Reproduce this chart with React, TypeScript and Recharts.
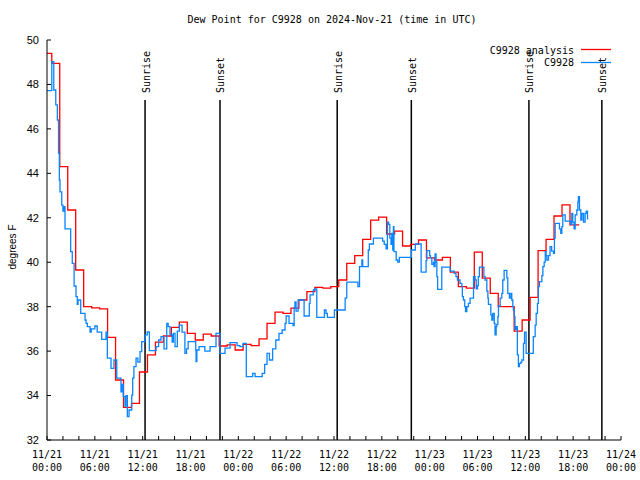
import { LineChart, Line, XAxis, YAxis, ReferenceLine, Legend } from 'recharts';

const MONO = '"DejaVu Sans Mono", monospace';
const SANS = '"Liberation Sans", Arial, sans-serif';

// x is hours since 11/21 00:00 UTC
const xTicks = [0, 2, 4, 6, 8, 10, 12, 14, 16, 18, 20, 22, 24, 26, 28, 30, 32, 34, 36, 38, 40, 42, 44, 46, 48, 50, 52, 54, 56, 58, 60, 62, 64, 66, 68, 70, 72];
const xTickLabels = [
  '11/21|00:00', '11/21|06:00', '11/21|12:00', '11/21|18:00',
  '11/22|00:00', '11/22|06:00', '11/22|12:00', '11/22|18:00',
  '11/23|00:00', '11/23|06:00', '11/23|12:00', '11/23|18:00',
  '11/24|00:00',
];
const yTicks = [32, 34, 36, 38, 40, 42, 44, 46, 48, 50];

const sunriseHours = [12.3, 36.4, 60.45];
const sunsetHours = [21.7, 45.7, 69.6];
const SUN_LINE_TOP = 47.3;

// hourly analysis, value changes at about :36 past each hour
const analysisFirst = 49.4;
const analysisValues = [
  48.95, 44.3, 42.35, 39.65, 38.0, 37.95, 37.9, 36.62, 34.7, 33.47,
  33.65, 35.06, 35.83, 36.4, 36.68, 37.07, 37.3, 36.8, 36.5, 36.76,
  36.68, 36.23, 36.28, 36.05, 36.3, 36.25, 36.55, 37.25, 37.75, 37.7,
  37.93, 38.3, 38.68, 38.87, 38.83, 38.9, 39.2, 39.95, 40.3, 41.03,
  41.89, 42.03, 41.27, 41.4, 40.73, 40.8, 41.0, 40.2, 40.1, 40.22,
  39.55, 38.9, 38.83, 40.45, 39.28, 38.6, 38.0, 38.0, 36.9, 37.4,
  38.42, 40.52, 41.03, 42.08, 42.58, 41.68,
];
const ANALYSIS_STEP_OFFSET = 0.6;
const ANALYSIS_END = 66.75;

const stationHours = [
  0, 0.6, 0.85, 1.1, 1.3, 1.45, 1.55, 1.63, 1.85, 2.0, 2.1, 2.26, 2.97, 3.17, 3.4, 3.64, 3.8, 3.9, 4.23, 4.77,
  4.9, 5.06, 5.4, 5.55, 6.0, 6.3, 6.86, 7.4, 7.57, 8.03, 8.4, 8.75, 9.28, 9.4, 9.57, 9.79, 9.9, 10.08, 10.29, 10.63,
  10.75, 10.9, 11.17, 11.4, 11.67, 11.88, 12.3, 12.58, 12.84, 13.68, 14.0, 14.3, 14.68, 15.02, 15.2, 15.43, 15.7, 15.85, 16.06, 16.35,
  16.6, 16.94, 17.3, 17.5, 17.7, 18.66, 18.7, 18.8, 19.07, 19.8, 20.45, 21.2, 21.7, 22.33, 22.96, 23.84, 24.2, 24.6, 25.0, 25.8,
  26.1, 27.0, 27.3, 27.6, 27.9, 28.3, 28.7, 29.1, 29.5, 29.86, 30.0, 30.36, 30.87, 31.0, 31.1, 31.24, 31.5, 32.25, 32.9, 33.0,
  33.4, 33.6, 33.84, 34.8, 35.0, 35.17, 36.05, 37.4, 37.6, 39.0, 39.2, 39.5, 39.6, 40.3, 40.44, 40.94, 42.1, 42.3, 42.53, 42.7,
  42.85, 43.0, 43.15, 43.25, 43.37, 43.45, 43.52, 43.8, 44.0, 44.2, 45.7, 46.2, 46.93, 47.55, 47.64, 48.0, 48.1, 48.27, 48.47, 48.55,
  48.68, 48.8, 48.9, 49.0, 49.52, 50.56, 51.07, 51.3, 51.48, 51.8, 52.03, 52.1, 52.23, 52.4, 52.5, 52.66, 52.86, 53.07, 53.5, 53.7,
  53.84, 54.0, 54.1, 54.24, 54.8, 54.95, 55.17, 55.3, 55.37, 55.67, 55.8, 55.92, 56.1, 56.2, 56.34, 56.42, 56.55, 56.63, 56.84, 57.05,
  57.17, 57.34, 57.68, 57.8, 58.0, 58.18, 58.3, 58.43, 58.5, 58.6, 58.7, 58.84, 59.0, 59.13, 59.26, 59.44, 59.56, 59.77, 59.9, 60.1,
  61.0, 61.23, 61.36, 61.52, 61.64, 61.77, 62.07, 62.2, 62.36, 62.5, 62.6, 62.7, 62.9, 63.1, 63.3, 63.53, 63.65, 63.74, 64.28, 64.45,
  64.58, 64.7, 65.0, 65.7, 65.83, 65.95, 66.12, 66.25, 66.46, 66.58, 66.66, 66.79, 66.96, 67.1, 67.3, 67.5, 67.63, 67.8, 67.9,
];
const stationValues = [
  47.72, 49.03, 47.75, 47.08, 46.4, 44.9, 43.7, 43.17, 42.57, 42.3, 42.5, 41.5, 40.48, 39.95, 38.93, 38.45, 38.1, 38.3, 37.7, 37.4,
  37.25, 37.1, 36.86, 37.0, 37.13, 36.85, 36.53, 36.85, 35.68, 35.22, 35.6, 34.78, 34.17, 34.5, 33.95, 33.53, 34.0, 33.05, 33.35, 34.02,
  34.78, 35.3, 35.68, 35.5, 35.98, 36.43, 36.73, 36.87, 36.02, 36.2, 36.5, 36.65, 36.1, 37.25, 37.1, 36.73, 36.4, 36.8, 36.2, 36.9,
  37.17, 36.85, 35.9, 36.1, 36.43, 36.05, 35.53, 36.05, 36.2, 36.0, 36.2, 36.8, 35.9, 36.13, 36.38, 36.25, 36.2, 36.35, 34.85, 35.0,
  34.85, 35.0, 35.4, 35.9, 35.6, 36.1, 36.5, 36.8, 36.95, 37.25, 37.58, 37.25, 37.15, 37.97, 38.22, 37.8, 38.3, 37.58, 38.15, 38.53,
  38.75, 38.8, 37.52, 37.85, 37.7, 37.52, 37.85, 38.38, 39.1, 38.9, 39.8, 40.1, 39.8, 40.55, 40.82, 41.08, 40.95, 40.8, 40.6, 41.8,
  41.7, 41.08, 40.8, 41.3, 40.55, 41.6, 40.48, 40.1, 40.0, 40.22, 40.55, 40.82, 39.55, 40.07, 40.52, 40.3, 40.2, 39.9, 40.0, 39.8,
  40.37, 40.0, 39.35, 38.78, 39.78, 39.6, 39.5, 39.35, 39.2, 39.05, 38.9, 38.45, 38.3, 38.0, 37.78, 38.0, 38.15, 38.38, 39.35, 39.2,
  38.8, 38.95, 39.35, 39.78, 39.35, 39.2, 38.7, 38.38, 38.1, 37.63, 37.4, 37.7, 37.25, 36.73, 37.1, 37.2, 37.55, 38.03, 38.38, 38.6,
  39.2, 39.63, 39.3, 38.6, 38.38, 38.6, 38.3, 38.0, 37.85, 37.55, 36.98, 37.1, 35.83, 35.3, 35.45, 35.5, 35.6, 36.35, 36.85, 35.9,
  36.65, 37.17, 37.7, 38.15, 38.9, 39.13, 39.4, 39.8, 40.0, 40.48, 40.3, 40.1, 40.3, 40.7, 40.5, 40.4, 41.08, 41.75, 41.5, 41.3,
  41.6, 42.13, 41.85, 41.7, 42.2, 41.8, 41.5, 42.13, 42.35, 42.7, 42.95, 42.35, 41.9, 42.2, 41.8, 42.2, 42.3, 41.95, 41.95,
];

const analysisData = [
  { h: 0, v: analysisFirst },
  ...analysisValues.map((v, i) => ({ h: ANALYSIS_STEP_OFFSET + i, v })),
  { h: ANALYSIS_END, v: analysisValues[analysisValues.length - 1] },
];
const stationData = stationHours.map((h, i) => ({ h, v: stationValues[i] }));

const RED = '#ff0000';
const BLUE = '#0a84ff';

function TimeTick({ x, y, payload }: any) {
  const h = payload.value;
  if (h % 6 !== 0) return <g />;
  const [day, time] = xTickLabels[h / 6].split('|');
  return (
    <g fontFamily={MONO} fontSize={10} fill="#000">
      <text x={x} y={y + 18} textAnchor="middle">{day}</text>
      <text x={x} y={y + 31} textAnchor="middle">{time}</text>
    </g>
  );
}

function SunLabel({ viewBox, text }: any) {
  const x = viewBox.x + 1;
  const y = viewBox.y - 7;
  return (
    <text
      x={x}
      y={y}
      transform={`rotate(-90 ${x} ${y})`}
      textAnchor="start"
      dominantBaseline="central"
      fontFamily={MONO}
      fontSize={10}
      fill="#000"
    >
      {text}
    </text>
  );
}

function YLabel({ viewBox }: any) {
  const x = 12;
  const y = viewBox.y + viewBox.height / 2 + 7;
  return (
    <text
      x={x}
      y={y}
      transform={`rotate(-90 ${x} ${y})`}
      textAnchor="middle"
      dominantBaseline="central"
      fontFamily={SANS}
      fontSize={10}
      fill="#000"
    >
      degrees F
    </text>
  );
}

function LegendBox() {
  return (
    <svg width={140} height={32} style={{ display: 'block', overflow: 'visible' }}>
      <g fontFamily={MONO} fontSize={10} fill="#000">
        <text x={98} y={13.5} textAnchor="end">C9928 analysis</text>
        <text x={98} y={26} textAnchor="end">C9928</text>
      </g>
      <line x1={105} x2={135} y1={9.5} y2={9.5} stroke={RED} strokeWidth={1.3} />
      <line x1={105} x2={135} y1={22.5} y2={22.5} stroke={BLUE} strokeWidth={1.3} />
    </svg>
  );
}

export default function App() {
  return (
    <div style={{ position: 'absolute', left: 0, top: 0, width: 640, height: 480, background: '#fff' }}>
      <div
        style={{
          position: 'absolute',
          left: 132,
          top: 13,
          width: 400,
          textAlign: 'center',
          fontFamily: MONO,
          fontSize: 10,
          lineHeight: '14px',
          color: '#000',
          zIndex: 2,
        }}
      >
        Dew Point for C9928 on 2024-Nov-21 (time in UTC)
      </div>
      <LineChart width={640} height={480} margin={{ top: 40, right: 19, bottom: 0, left: 0 }}>
        <XAxis
          dataKey="h"
          type="number"
          domain={[0, 72]}
          ticks={xTicks}
          interval={0}
          height={40}
          tickSize={-4}
          tickMargin={4}
          axisLine={{ stroke: '#000' }}
          tickLine={{ stroke: '#000' }}
          tick={<TimeTick />}
          allowDataOverflow
        />
        <XAxis
          xAxisId="top"
          orientation="top"
          dataKey="h"
          type="number"
          domain={[0, 72]}
          ticks={xTicks}
          interval={0}
          height={0}
          tickSize={-4}
          tick={false}
          axisLine={{ stroke: '#000' }}
          tickLine={{ stroke: '#000' }}
          allowDataOverflow
        />
        <YAxis
          type="number"
          domain={[32, 50]}
          ticks={yTicks}
          interval={0}
          width={47}
          tickSize={-4}
          tickMargin={12}
          axisLine={{ stroke: '#000' }}
          tickLine={{ stroke: '#000' }}
          tick={{ fontFamily: SANS, fontSize: 11, fill: '#000' }}
          label={<YLabel />}
          allowDataOverflow
        />
        <YAxis
          yAxisId="right"
          orientation="right"
          type="number"
          domain={[32, 50]}
          ticks={yTicks}
          interval={0}
          width={0}
          tickSize={-4}
          tick={false}
          axisLine={{ stroke: '#000' }}
          tickLine={{ stroke: '#000' }}
          allowDataOverflow
        />
        {sunriseHours.map((h) => (
          <ReferenceLine
            key={`rise-${h}`}
            segment={[{ x: h, y: 32 }, { x: h, y: SUN_LINE_TOP }]}
            stroke="#000"
            strokeWidth={1.5}
            label={<SunLabel text="Sunrise" />}
          />
        ))}
        {sunsetHours.map((h) => (
          <ReferenceLine
            key={`set-${h}`}
            segment={[{ x: h, y: 32 }, { x: h, y: SUN_LINE_TOP }]}
            stroke="#000"
            strokeWidth={1.5}
            label={<SunLabel text="Sunset" />}
          />
        ))}
        <Line
          data={analysisData}
          dataKey="v"
          type="stepAfter"
          stroke={RED}
          strokeWidth={1.3}
          dot={false}
          activeDot={false}
          isAnimationActive={false}
        />
        <Line
          data={stationData}
          dataKey="v"
          type="stepAfter"
          stroke={BLUE}
          strokeWidth={1.3}
          dot={false}
          activeDot={false}
          isAnimationActive={false}
        />
        <Legend
          layout="horizontal"
          verticalAlign="middle"
          align="center"
          wrapperStyle={{ top: 40, left: 476, width: 140, height: 32 }}
          content={<LegendBox />}
        />
      </LineChart>
    </div>
  );
}
